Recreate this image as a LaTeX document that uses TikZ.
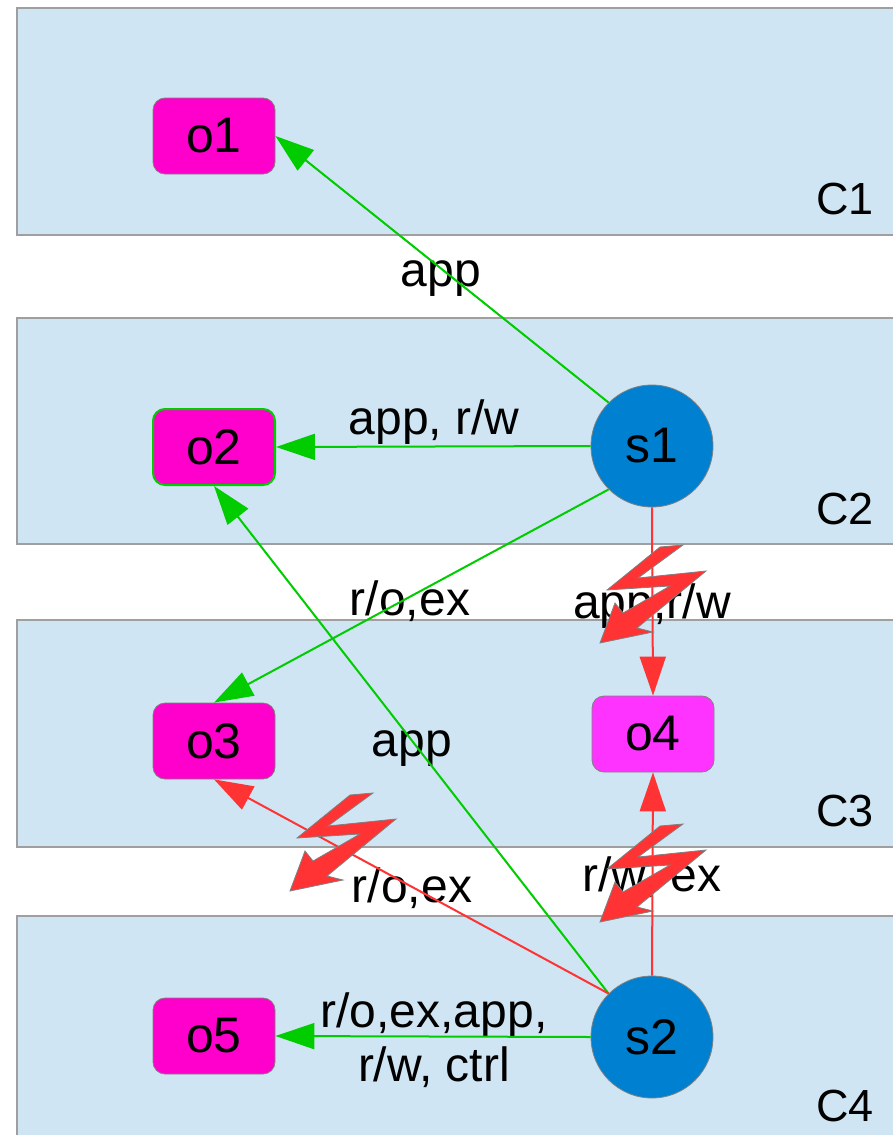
\documentclass[tikz,border=0pt]{standalone}
\usepackage{fontspec}
\setmainfont{Liberation Sans}
\usetikzlibrary{arrows.meta}

\definecolor{bandblue}{HTML}{CFE5F3}
\definecolor{objpink}{HTML}{FF00CC}
\definecolor{objlight}{HTML}{FF33FF}
\definecolor{subjblue}{HTML}{0080D0}
\definecolor{okgreen}{HTML}{00CC00}
\definecolor{badred}{HTML}{FF3333}

\tikzset{
  band/.style={fill=bandblue, draw=gray!75, line width=0.6pt},
  bandlbl/.style={font=\fontsize{22.5}{24}\selectfont, inner sep=0pt},
  obj/.style={rectangle, rounded corners=6pt, fill=objpink, draw=gray, line width=0.4pt,
    minimum width=61pt, minimum height=38pt, inner sep=0pt, font=\fontsize{25}{27}\selectfont},
  subj/.style={circle, fill=subjblue, draw=gray, line width=0.4pt,
    minimum size=61pt, inner sep=0pt, font=\fontsize{25}{27}\selectfont},
  lbl/.style={font=\fontsize{24}{27}\selectfont, inner sep=0pt, align=center},
  grant/.style={draw=okgreen, line width=1pt, -{Triangle[length=19.5pt,width=13pt]}},
  deny/.style={draw=badred, line width=1pt, -{Triangle[length=19.5pt,width=13pt]}},
  zap/.style={fill=badred, draw=gray, line width=0.4pt, line join=miter},
}

\begin{document}
\begin{tikzpicture}[x=0.5pt, y=-0.5pt]
  \clip (0,0) rectangle (893,1135);
  % compartments
  \draw[band] (17,8)   rectangle (905,235);
  \draw[band] (17,318) rectangle (905,544);
  \draw[band] (17,620) rectangle (905,847);
  \draw[band] (17,916) rectangle (905,1150);
  \node[bandlbl] (c1) at (845,199)  {C1};
  \node[bandlbl] (c2) at (845,509)  {C2};
  \node[bandlbl] (c3) at (845,811)  {C3};
  \node[bandlbl] (c4) at (845,1106) {C4};
  % objects and subjects
  \node[obj] (o1) at (214,136)  {o1};
  \node[obj, draw=okgreen, line width=1pt] (o2) at (214,447) {o2};
  \node[obj] (o3) at (214,741)  {o3};
  \node[obj, fill=objlight] (o4) at (653,734) {o4};
  \node[obj] (o5) at (214,1036) {o5};
  \node[subj] (s1) at (652,446)  {s1};
  \node[subj] (s2) at (652,1037) {s2};
  % labels
  \node[lbl] (l1) at (441,279)  {app};
  \node[lbl] (l2) at (434,422)  {app, r/w};
  \node[lbl] (l3) at (410,601)  {r/o,ex};
  \node[lbl] (l4) at (652,606)  {app,r/w};
  \node[lbl] (l5) at (412,749)  {app};
  \node[lbl] (l6) at (412,888)  {r/o,ex};
  \node[lbl] (l7) at (652,877)  {r/w, ex};
  \node[lbl] (l8) at (434,1040) {r/o,ex,app,\\r/w, ctrl};
  % rights
  \draw[grant] (s1.135) -- (o1.east);
  \draw[grant] (s1.west) -- (o2.east);
  \draw[grant] (s1.225) -- (o3.north);
  \draw[deny]  (s1.south) -- (o4.north);
  \draw[grant] (s2.135) -- (o2.south);
  \draw[deny]  (s2.135) -- (o3.south);
  \draw[deny]  (s2.north) -- (o4.south);
  \draw[grant] (s2.west) -- (o5.east);
  % broken rights
  \foreach \dx/\dy in {0/0, 0/279, -310/248}
    \draw[zap, shift={(\dx,\dy)}] (660,547) -- (683,545) -- (638,578) -- (706,571)
      -- (637,628) -- (653,632) -- (600,643) -- (615,603) -- (623,613)
      -- (670,586) -- (607,590) -- cycle;
\end{tikzpicture}
\end{document}
